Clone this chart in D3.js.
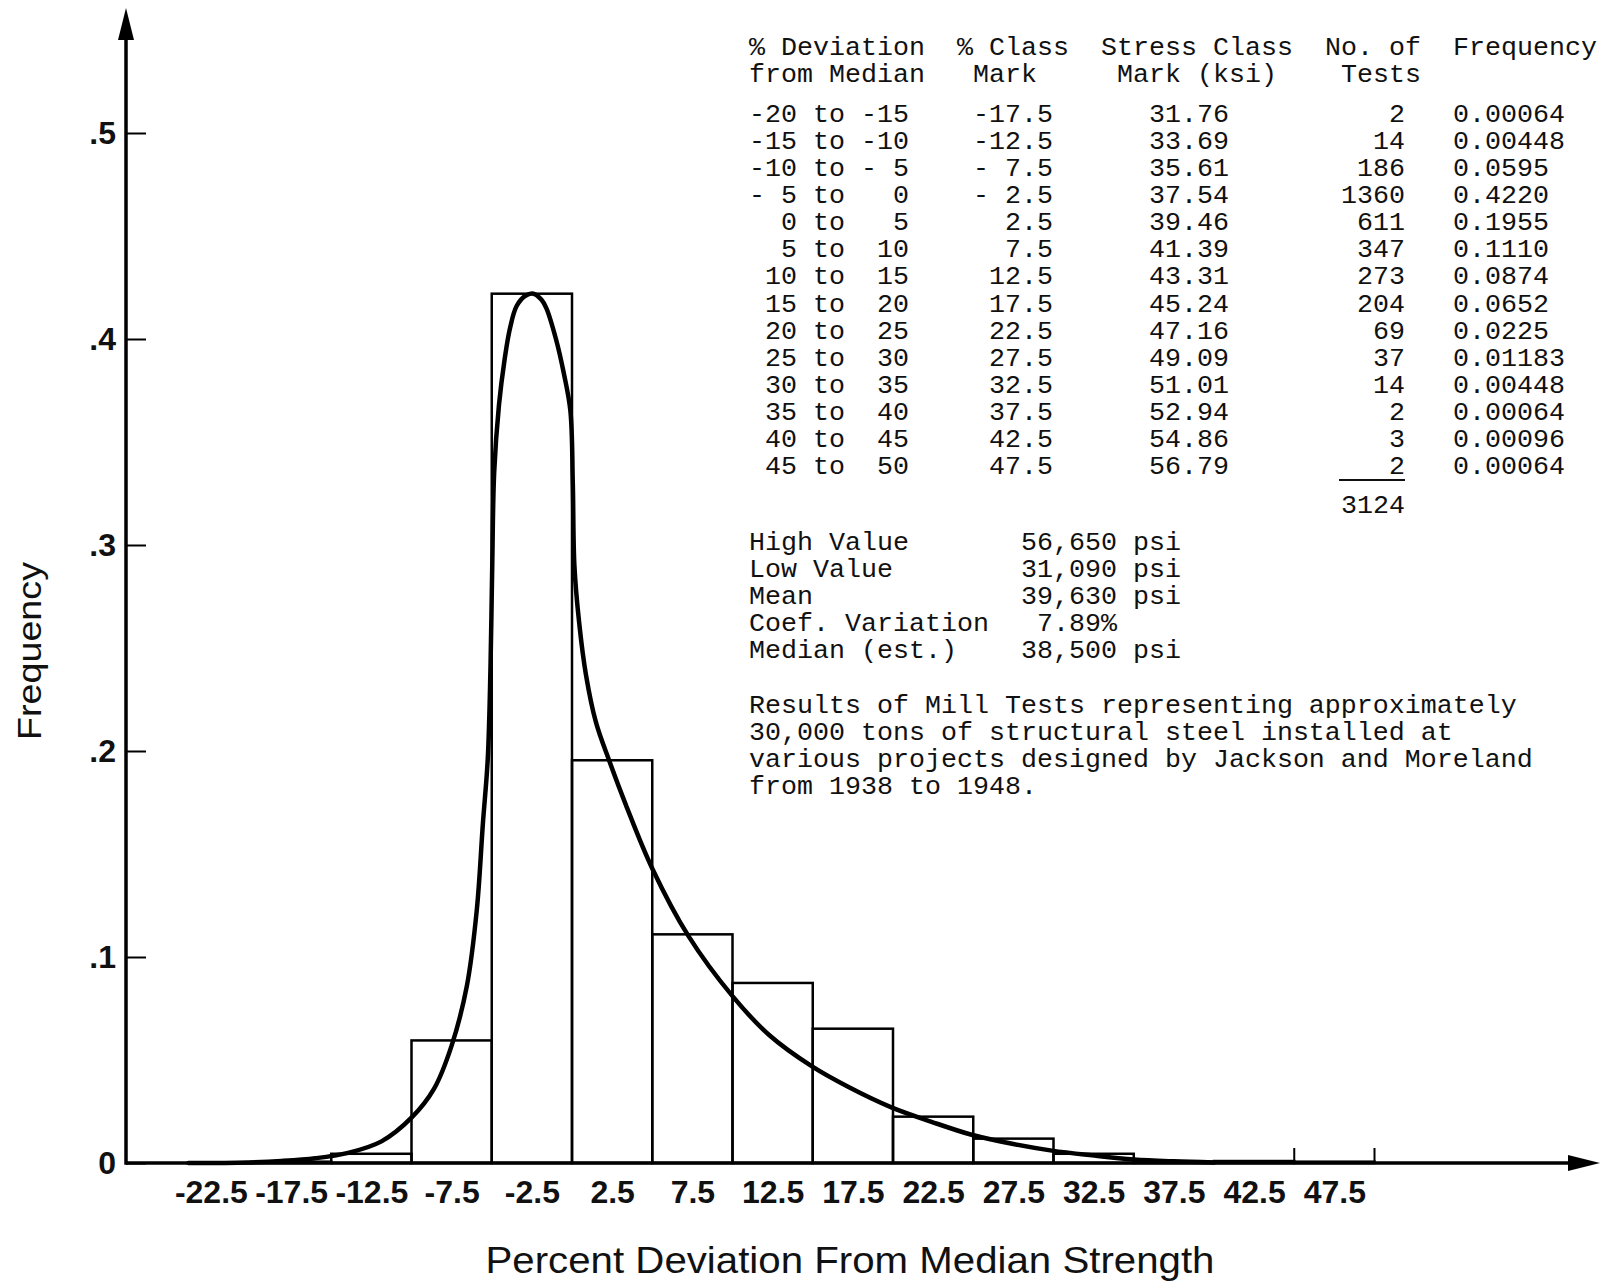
<!DOCTYPE html>
<html>
<head>
<meta charset="utf-8">
<script src="https://cdn.jsdelivr.net/npm/d3@7"></script>
<style>
  body { margin: 0; background: #fff; }
  svg text { fill: #111; }
  .sans { font-family: "Liberation Sans", Arial, sans-serif; }
  .mono { font-family: "Liberation Mono", "DejaVu Sans Mono", monospace; font-size: 26.67px; white-space: pre; }
</style>
</head>
<body>
<div id="chart"></div>
<script>
// page size
var svgWidth = 1617;
var svgHeight = 1283;

// classes (% deviation from median)
var classLow   = [-20, -15, -10, -5, 0, 5, 10, 15, 20, 25, 30, 35, 40, 45];
var classHigh  = [-15, -10, -5, 0, 5, 10, 15, 20, 25, 30, 35, 40, 45, 50];
var classMark  = [-17.5, -12.5, -7.5, -2.5, 2.5, 7.5, 12.5, 17.5, 22.5, 27.5, 32.5, 37.5, 42.5, 47.5];
var stressMark = [31.76, 33.69, 35.61, 37.54, 39.46, 41.39, 43.31, 45.24, 47.16, 49.09, 51.01, 52.94, 54.86, 56.79];
var tests      = [2, 14, 186, 1360, 611, 347, 273, 204, 69, 37, 14, 2, 3, 2];
var frequencyText = ["0.00064", "0.00448", "0.0595", "0.4220", "0.1955", "0.1110", "0.0874",
                     "0.0652", "0.0225", "0.01183", "0.00448", "0.00064", "0.00096", "0.00064"];
var totalTests = 3124;

// axis ticks
var xTicks = [-22.5, -17.5, -12.5, -7.5, -2.5, 2.5, 7.5, 12.5, 17.5, 22.5, 27.5, 32.5, 37.5, 42.5, 47.5];
var yTicks = [0, 0.1, 0.2, 0.3, 0.4, 0.5];
var yTickLabels = ["0", ".1", ".2", ".3", ".4", ".5"];
var edgeMarks = [45, 50];

// fitted curve, points
var curveX = [-23.9, -20.2, -18.1, -16.0, -13.95, -11.87, -10, -8.6, -7.5, -6.55, -5.93, -5.55, -5.25, -5.08,
              -4.97, -4.85, -4.55, -4.2, -3.87, -3.45, -2.9, -2.4, -1.9, -1.6, -1.0, -0.5, -0.1, 0.05, 0.15,
              0.45, 0.87, 1.49, 2.31, 3.35, 5.0, 7.27, 10, 12.3, 14.93, 17.2, 19.9, 22.4, 24.9, 27.5, 29.9,
              32.4, 35.0, 37.5, 40];
var curveY = [0.0, 0.0003, 0.001, 0.0023, 0.0049, 0.0105, 0.022, 0.036, 0.057, 0.086, 0.123, 0.165, 0.196, 0.24,
              0.29, 0.335, 0.368, 0.390, 0.405, 0.416, 0.421, 0.422, 0.419, 0.415, 0.400, 0.383, 0.365, 0.330, 0.290,
              0.262, 0.237, 0.214, 0.1955, 0.174, 0.143, 0.110, 0.081, 0.062, 0.047, 0.037, 0.027, 0.0200, 0.0137,
              0.0092, 0.006, 0.0037, 0.0017, 0.0008, 0.0003];

// text blocks
var statLabels = ["High Value", "Low Value", "Mean", "Coef. Variation", "Median (est.)"];
var statValues = ["56,650 psi", "31,090 psi", "39,630 psi", " 7.89%", "38,500 psi"];
var noteLines = ["Results of Mill Tests representing approximately",
                 "30,000 tons of structural steel installed at",
                 "various projects designed by Jackson and Moreland",
                 "from 1938 to 1948."];

var frequency = frequencyText.map(Number);

var svg = d3.select("#chart")
  .append("svg")
  .attr("width", svgWidth)
  .attr("height", svgHeight);

svg.append("rect").attr("width", svgWidth).attr("height", svgHeight).attr("fill", "#fff");

// scales
var axisX = 126;
var xScale = d3.scaleLinear().domain([-10, 40]).range([411.5, 1214]);
var yScale = d3.scaleLinear().domain([0, 0.5]).range([1163, 133]);
var baseY = yScale(0);

// histogram bars
svg.append("g")
  .selectAll("rect")
  .data(frequency)
  .enter()
  .append("rect")
  .attr("x", (d, i) => xScale(classLow[i]))
  .attr("y", d => yScale(d))
  .attr("width", (d, i) => xScale(classHigh[i]) - xScale(classLow[i]))
  .attr("height", d => baseY - yScale(d))
  .attr("fill", "none")
  .attr("stroke", "#000")
  .attr("stroke-width", 2.5);

// little marks on the last class limits
svg.append("g")
  .selectAll("line")
  .data(edgeMarks)
  .enter()
  .append("line")
  .attr("x1", d => xScale(d)).attr("x2", d => xScale(d))
  .attr("y1", baseY).attr("y2", baseY - 15)
  .attr("stroke", "#000")
  .attr("stroke-width", 2);

// fitted curve
var line = d3.line()
  .x(d => xScale(d[0]))
  .y(d => yScale(d[1]))
  .curve(d3.curveCatmullRom.alpha(0.5));

svg.append("path")
  .datum(curveX.map((v, i) => [v, curveY[i]]))
  .attr("d", line)
  .attr("fill", "none")
  .attr("stroke", "#000")
  .attr("stroke-width", 4.5)
  .attr("stroke-linejoin", "round")
  .attr("stroke-linecap", "round");

// x axis labels
var xAxis = svg.append("g")
  .attr("transform", `translate(0, ${baseY})`)
  .call(d3.axisBottom(xScale).tickValues(xTicks).tickSize(0).tickPadding(17).tickFormat(d => String(d)));
xAxis.select(".domain").remove();
xAxis.selectAll("text")
  .attr("class", "sans")
  .attr("font-size", 32)
  .attr("font-weight", "bold")
  .attr("fill", "#111");

// y axis labels and ticks (ticks point into the plot)
var yAxis = svg.append("g")
  .attr("transform", `translate(${axisX}, 0)`)
  .call(d3.axisLeft(yScale).tickValues(yTicks).tickSize(-20).tickPadding(10)
    .tickFormat((d, i) => yTickLabels[i]));
yAxis.select(".domain").remove();
yAxis.selectAll(".tick line").attr("stroke", "#000").attr("stroke-width", 2);
yAxis.selectAll("text")
  .attr("class", "sans")
  .attr("font-size", 32)
  .attr("font-weight", "bold")
  .attr("fill", "#111");

// axis lines with arrows
svg.append("line")
  .attr("x1", axisX).attr("x2", 1575)
  .attr("y1", baseY).attr("y2", baseY)
  .attr("stroke", "#000").attr("stroke-width", 3.5);
svg.append("path")
  .attr("d", `M1600,${baseY} L1568,${baseY - 8} L1568,${baseY + 8} Z`)
  .attr("fill", "#000");

svg.append("line")
  .attr("x1", axisX).attr("x2", axisX)
  .attr("y1", baseY + 1.75).attr("y2", 34)
  .attr("stroke", "#000").attr("stroke-width", 3.5);
svg.append("path")
  .attr("d", `M${axisX},8 L${axisX - 8},40 L${axisX + 8},40 Z`)
  .attr("fill", "#000");

// axis titles
svg.append("text")
  .attr("class", "sans")
  .attr("x", 850).attr("y", 1273)
  .attr("text-anchor", "middle")
  .attr("font-size", 37)
  .attr("textLength", 729)
  .attr("lengthAdjust", "spacingAndGlyphs")
  .text("Percent Deviation From Median Strength");

svg.append("text")
  .attr("class", "sans")
  .attr("transform", "translate(41, 651) rotate(-90)")
  .attr("text-anchor", "middle")
  .attr("font-size", 34)
  .attr("textLength", 178)
  .attr("lengthAdjust", "spacingAndGlyphs")
  .text("Frequency");

// typewritten table
var tableX = 749;
var pitch = 16.0;
var table = svg.append("g");

function cell(col, y, str) {
  table.append("text")
    .attr("class", "mono")
    .attr("x", tableX + col * pitch)
    .attr("y", y)
    .text(str);
}

function signed(v, width, digits) {
  var s = Math.abs(v).toFixed(digits).padStart(width, " ");
  return (v < 0 ? "-" : " ") + s;
}

cell(0, 55, "% Deviation");
cell(13, 55, "% Class");
cell(22, 55, "Stress Class");
cell(36, 55, "No. of");
cell(44, 55, "Frequency");
cell(0, 82.2, "from Median");
cell(14, 82.2, "Mark");
cell(23, 82.2, "Mark (ksi)");
cell(37, 82.2, "Tests");

var rowY0 = 122, rowStep = 27.08;
classLow.forEach(function(lo, i) {
  var y = rowY0 + i * rowStep;
  cell(0, y, signed(lo, 2, 0) + " to " + signed(classHigh[i], 2, 0));
  cell(14, y, signed(classMark[i], 4, 1));
  cell(25, y, stressMark[i].toFixed(2));
  cell(37, y, String(tests[i]).padStart(4, " "));
  cell(44, y, frequencyText[i]);
});

var lastY = rowY0 + (classLow.length - 1) * rowStep;
table.append("line")
  .attr("x1", tableX + 37 * pitch - 2).attr("x2", tableX + 41 * pitch)
  .attr("y1", lastY + 6).attr("y2", lastY + 6)
  .attr("stroke", "#111").attr("stroke-width", 2);
cell(37, lastY + 39, String(totalTests));

statLabels.forEach(function(s, i) {
  cell(0, 550 + i * 27, s);
  cell(17, 550 + i * 27, statValues[i]);
});

noteLines.forEach(function(s, i) {
  cell(0, 713 + i * 27, s);
});
</script>
</body>
</html>
